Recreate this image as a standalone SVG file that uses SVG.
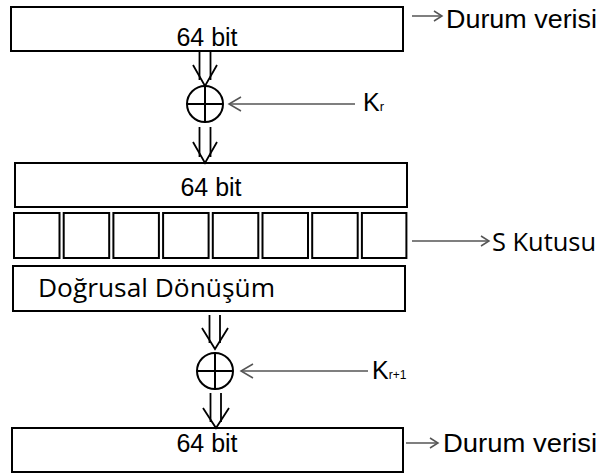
<svg xmlns="http://www.w3.org/2000/svg" width="603" height="473" viewBox="0 0 603 473">
<style>
.box{fill:#fff;stroke:#000;stroke-width:2}
.dbl{fill:none;stroke:#000;stroke-width:1.8}
.gray{fill:none;stroke:#555;stroke-width:1.5}
.xor{fill:none;stroke:#000;stroke-width:2}
.t{font-family:"Liberation Sans",Arial,sans-serif;font-size:25px;fill:#000}
.o{font-family:"Open Sans",sans-serif;font-size:25px;fill:#000}
</style>
<rect width="603" height="473" fill="#fff"/>
<g id="state-top">
<rect class="box" x="11" y="7" width="392" height="44"/>
<text class="t" x="207" y="46" text-anchor="middle">64 bit</text>
</g>
<g id="label-durum-top"><text class="t" x="446" y="28" font-size="27" textLength="151" lengthAdjust="spacingAndGlyphs">Durum verisi</text></g>
<g id="xor1">
<circle class="xor" cx="205" cy="104" r="18"/>
<line class="xor" x1="187" y1="104" x2="223" y2="104"/>
<line class="xor" x1="205" y1="86" x2="205" y2="122"/>
</g>
<g id="label-kr"><text class="t" x="363" y="111" font-size="25">K<tspan font-size="13">r</tspan></text></g>
<g id="state-mid">
<rect class="box" x="15" y="163" width="392" height="44"/>
<text class="t" x="211" y="196" text-anchor="middle">64 bit</text>
</g>
<g id="sbox">
<rect class="box" x="14" y="213" width="45.5" height="45"/>
<rect class="box" x="63.7" y="213" width="45.5" height="45"/>
<rect class="box" x="113.4" y="213" width="45.5" height="45"/>
<rect class="box" x="163.1" y="213" width="45.5" height="45"/>
<rect class="box" x="212.8" y="213" width="45.5" height="45"/>
<rect class="box" x="262.5" y="213" width="45.5" height="45"/>
<rect class="box" x="312.2" y="213" width="45.5" height="45"/>
<rect class="box" x="361.9" y="213" width="44.5" height="45"/>
</g>
<g id="label-sbox"><text class="o" x="492" y="251" textLength="104" lengthAdjust="spacingAndGlyphs">S Kutusu</text></g>
<g id="linear">
<rect class="box" x="13" y="266" width="392" height="45"/>
<text class="o" x="38" y="297" font-size="26" textLength="237" lengthAdjust="spacingAndGlyphs">Doğrusal Dönüşüm</text>
</g>
<g id="xor2">
<circle class="xor" cx="215" cy="371" r="18"/>
<line class="xor" x1="197" y1="371" x2="233" y2="371"/>
<line class="xor" x1="215" y1="353" x2="215" y2="389"/>
</g>
<g id="label-kr1"><text class="t" x="372" y="379" font-size="26">K<tspan font-size="12">r+1</tspan></text></g>
<g id="state-bottom">
<rect class="box" x="12" y="428" width="391" height="44"/>
<text class="t" x="207" y="452" text-anchor="middle">64 bit</text>
</g>
<g id="label-durum-bottom"><text class="t" x="443" y="452" font-size="27" textLength="154" lengthAdjust="spacingAndGlyphs">Durum verisi</text></g>
<g id="connectors">
<line class="dbl" x1="199.5" y1="51" x2="199.5" y2="80"/>
<line class="dbl" x1="210.5" y1="51" x2="210.5" y2="80"/>
<polyline class="dbl" points="193,65 205,86 217,65"/>
<line class="dbl" x1="199.5" y1="127" x2="199.5" y2="157"/>
<line class="dbl" x1="210.5" y1="127" x2="210.5" y2="157"/>
<polyline class="dbl" points="193,142 205,163 217,142"/>
<line class="dbl" x1="209.5" y1="315" x2="209.5" y2="343"/>
<line class="dbl" x1="220" y1="315" x2="220" y2="343"/>
<polyline class="dbl" points="202,328 215,349 228,328"/>
<line class="dbl" x1="210.5" y1="393" x2="210.5" y2="422"/>
<line class="dbl" x1="221" y1="393" x2="221" y2="422"/>
<polyline class="dbl" points="203,408 216,428 229,408"/>
<line class="gray" x1="355" y1="104" x2="229" y2="104"/>
<polyline class="gray" points="241,97 229,104 241,111"/>
<line class="gray" x1="368" y1="371" x2="241" y2="371"/>
<polyline class="gray" points="253,364 241,371 253,378"/>
<line class="gray" x1="412" y1="16" x2="442" y2="16"/>
<polyline class="gray" points="434,11 442,16 434,21"/>
<line class="gray" x1="412" y1="241" x2="489" y2="241"/>
<polyline class="gray" points="481,236 489,241 481,246"/>
<line class="gray" x1="406" y1="443" x2="438" y2="443"/>
<polyline class="gray" points="430,438 438,443 430,448"/>
</g>
</svg>
